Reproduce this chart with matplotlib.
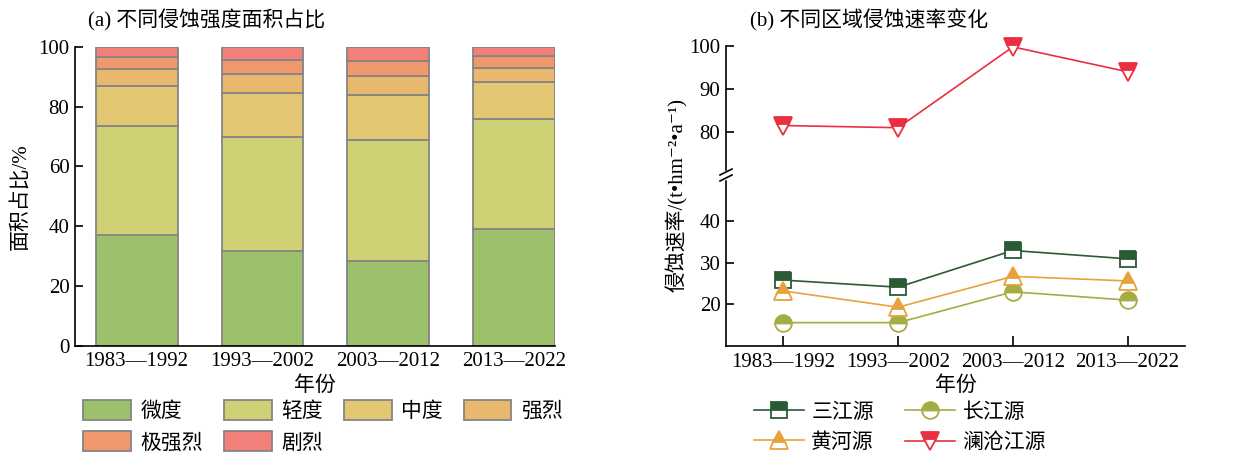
import numpy as np
import matplotlib
matplotlib.use("Agg")
import matplotlib.pyplot as plt
from matplotlib.patches import Patch
from matplotlib.lines import Line2D

plt.rcParams["font.family"] = ["Liberation Serif", "Noto Sans CJK SC", "DejaVu Sans"]
plt.rcParams["font.size"] = 15
plt.rcParams["axes.linewidth"] = 1.2

periods = ["1983—1992", "1993—2002", "2003—2012", "2013—2022"]

# (a) area share by erosion intensity, %
levels = ["微度", "轻度", "中度", "强烈", "极强烈", "剧烈"]
share_weidu = [37.2, 31.8, 28.4, 39.1]
share_qingdu = [36.3, 38.1, 40.3, 36.8]
share_zhongdu = [13.5, 14.7, 15.0, 12.3]
share_qianglie = [5.4, 6.3, 6.4, 4.8]
share_jiqianglie = [4.3, 4.6, 5.1, 4.0]
share_julie = [3.3, 4.5, 4.8, 3.0]
level_colors = ["#9dc06a", "#cfd174", "#e3c773", "#e8b86f", "#f0986d", "#f27f7a"]

# (b) erosion rate by region, t/(hm2*a)
regions = ["三江源", "长江源", "黄河源", "澜沧江源"]
rate_sanjiang = [25.8, 24.1, 32.9, 30.9]
rate_changjiang = [15.6, 15.6, 23.0, 21.0]
rate_huanghe = [23.2, 19.3, 26.7, 25.6]
rate_lancang = [81.5, 81.0, 99.8, 94.0]

W, H = 1243, 454
fig = plt.figure(figsize=(W / 100, H / 100), dpi=100)


def box(l, t, r, b):
    return [l / W, 1 - b / H, (r - l) / W, (b - t) / H]


# ---- (a) stacked bars ----
ax = fig.add_axes(box(75, 46.7, 555, 346))
x = np.arange(len(periods))
stack = [share_weidu, share_qingdu, share_zhongdu, share_qianglie, share_jiqianglie, share_julie]
bottom = np.zeros(len(periods))
handles_a = {}
for vals, name, col in zip(stack, levels, level_colors):
    ax.bar(x, vals, 0.65, bottom=bottom, color=col, edgecolor="#858585", linewidth=1.3)
    bottom += np.array(vals)
    handles_a[name] = Patch(facecolor=col, edgecolor="#858585", linewidth=1.3, label=name)
ax.set_xlim(-0.49, 3.325)
ax.set_ylim(0, 100)
ax.set_yticks(range(0, 101, 20))
ax.set_xticks(x)
ax.set_xticklabels(periods)
ax.tick_params(axis="y", direction="in", length=6, width=1.2, pad=4)
ax.tick_params(axis="x", length=0, pad=4)
ax.spines["top"].set_visible(False)
ax.spines["right"].set_visible(False)
ax.set_ylabel("面积占比/%", labelpad=6)
ax.set_xlabel("年份", labelpad=4)
fig.text(88 / W, 1 - 20 / H, "(a) 不同侵蚀强度面积占比", ha="left", va="center")

# legend fills column by column, so order items to read row by row
order_a = ["微度", "极强烈", "轻度", "剧烈", "中度", "强烈"]
fig.legend(handles=[handles_a[n] for n in order_a], ncol=4, frameon=False, loc="upper left",
           bbox_to_anchor=(83 / W, 1 - 400 / H), borderpad=0, borderaxespad=0,
           handlelength=2.3, handleheight=1.1, handletextpad=0.45,
           columnspacing=1.0, labelspacing=0.45)

# ---- (b) broken axis lines ----
ax_top = fig.add_axes(box(726, 46, 1185, 175))
ax_bot = fig.add_axes(box(726, 175, 1185, 346))

styles = [
    (rate_sanjiang, "#2b5a35", "s", 11),
    (rate_changjiang, "#a6ac44", "o", 12),
    (rate_huanghe, "#e8a23c", "^", 13.5),
    (rate_lancang, "#ea3040", "v", 13.5),
]
handles_b = {}
for (vals, col, mk, ms), name in zip(styles, regions):
    target = ax_top if name == "澜沧江源" else ax_bot
    target.plot(x, vals, color=col, lw=1.2, marker=mk, ms=ms, fillstyle="top",
                markerfacecolor=col, markerfacecoloralt="white",
                markeredgecolor=col, markeredgewidth=1.3, clip_on=False)
    handles_b[name] = Line2D([], [], color=col, lw=1.2, marker=mk, ms=ms,
                             fillstyle="top", markerfacecolor=col,
                             markerfacecoloralt="white", markeredgecolor=col,
                             markeredgewidth=1.3, label=name)

for a in (ax_top, ax_bot):
    a.set_xlim(-0.5, 3.5)
    a.spines["top"].set_visible(False)
    a.spines["right"].set_visible(False)
    a.tick_params(axis="y", direction="in", length=6, width=1.2, pad=4)
    a.patch.set_alpha(0)

ax_top.set_ylim(70, 100)
ax_top.set_yticks([80, 90, 100])
ax_top.spines["bottom"].set_visible(False)
ax_top.tick_params(axis="x", bottom=False, labelbottom=False)

ax_bot.set_ylim(10, 51)
ax_bot.set_yticks([20, 30, 40])
ax_bot.set_xticks(x)
ax_bot.set_xticklabels(periods)
ax_bot.tick_params(axis="x", direction="in", length=7, width=1.2, pad=5)
ax_bot.set_xlabel("年份", labelpad=3)

# break marks on the left spine
brk = dict(transform=fig.transFigure, color="black", lw=1.2, clip_on=False)
bx = 726 / W
for dy in (-3, 3):
    yy = 1 - (175 + dy) / H
    fig.add_artist(Line2D([bx - 6 / W, bx + 6 / W], [yy - 3 / H, yy + 3 / H], **brk))
fig.add_artist(Line2D([bx, bx], [1 - 172 / H, 1 - 178 / H], transform=fig.transFigure,
                      color="white", lw=2.5, zorder=1))

fig.text(677 / W, 1 - 195 / H, "侵蚀速率/(t•hm⁻²•a⁻¹)", rotation=90,
         ha="center", va="center")
fig.text(750 / W, 1 - 20 / H, "(b) 不同区域侵蚀速率变化", ha="left", va="center")

order_b = ["三江源", "黄河源", "长江源", "澜沧江源"]
fig.legend(handles=[handles_b[n] for n in order_b], ncol=2, frameon=False,
           loc="upper left", bbox_to_anchor=(754 / W, 1 - 403 / H),
           borderpad=0, borderaxespad=0, handlelength=2.4, handletextpad=0.35,
           columnspacing=1.5, labelspacing=0.5)

fig.savefig("out.png", dpi=100)
